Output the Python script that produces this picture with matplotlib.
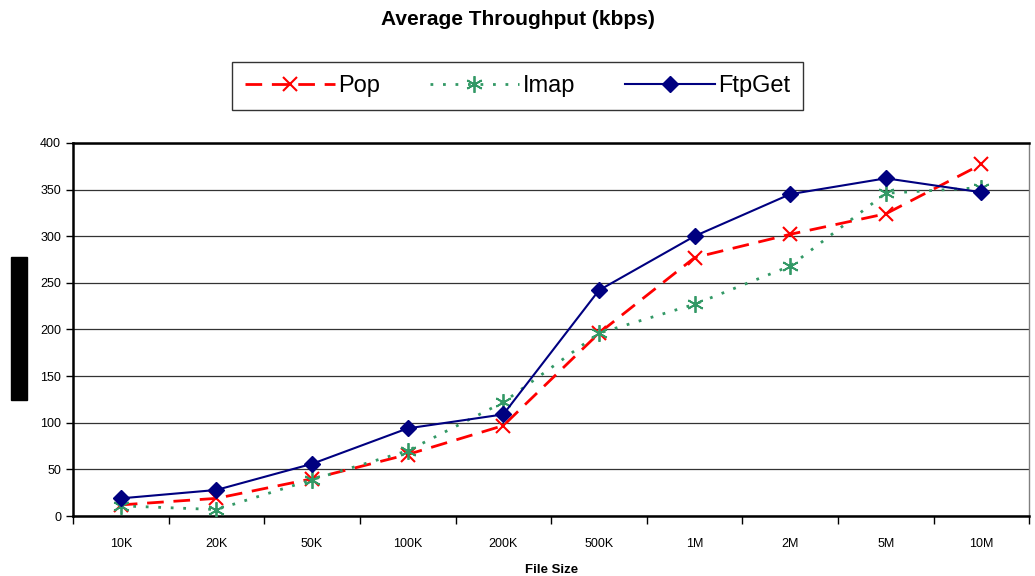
import matplotlib
matplotlib.use('Agg')
import matplotlib.pyplot as plt
from matplotlib.patches import Rectangle

plt.rcParams['font.family'] = ['Liberation Sans', 'DejaVu Sans']

sizes = ['10K', '20K', '50K', '100K', '200K', '500K', '1M', '2M', '5M', '10M']
pop = [12, 19, 40, 66, 97, 196, 277, 302, 324, 377]
imap = [11, 7, 39, 70, 122, 196, 227, 268, 346, 352]
ftpget = [19, 28, 56, 94, 109, 242, 300, 345, 362, 347]

fig = plt.figure(figsize=(10.35, 5.76), dpi=100)
ax = fig.add_axes([0.0705, 0.104, 0.924, 0.648])

x = list(range(len(sizes)))
ax.plot(x, pop, color='#FF0000', linestyle=(0, (6, 3.5)), linewidth=2,
        marker='x', markersize=10, markeredgewidth=1.5, label='Pop', zorder=3)
ax.plot(x, imap, color='#339966', linestyle=(0, (1, 3.5)), linewidth=2,
        marker=(6, 2, 0), markersize=12, markeredgewidth=1.3, label='Imap', zorder=3)
ax.plot(x, ftpget, color='#000080', linestyle='-', linewidth=1.5,
        marker='D', markersize=8, label='FtpGet', zorder=4)

ax.set_xlim(-0.5, len(sizes) - 0.5)
ax.set_ylim(0, 400)
ax.set_yticks(range(0, 401, 50))
ax.set_xticks(x)
ax.set_xticklabels(sizes)
ax.set_xticks([i - 0.5 for i in range(len(sizes) + 1)], minor=True)
ax.tick_params(axis='x', which='major', length=0, pad=16, labelsize=9)
ax.tick_params(axis='x', which='minor', length=6, width=1, direction='out')
ax.tick_params(axis='y', length=5, width=1, direction='out', labelsize=9)
ax.yaxis.grid(True, color='#333333', linewidth=0.9)
ax.set_axisbelow(True)
for s in ['left', 'bottom', 'top']:
    ax.spines[s].set_linewidth(1.8)
ax.spines['right'].set_color('#808080')
ax.spines['right'].set_linewidth(1)

ax.set_xlabel('File Size', fontsize=9.5, fontweight='bold', labelpad=10)
fig.suptitle('Average Throughput (kbps)', fontsize=15, fontweight='bold', y=0.983)

leg = fig.legend(loc='center', bbox_to_anchor=(0.5, 0.851), ncol=3, fontsize=17,
                 frameon=True, fancybox=False, edgecolor='black', handlelength=3.8,
                 columnspacing=2.1, borderpad=0.55, handletextpad=0.15, borderaxespad=0)
leg.get_frame().set_linewidth(1)

# redacted y-axis label
fig.patches.append(Rectangle((11 / 1035, 1 - 400 / 576), 16 / 1035, 143 / 576,
                             transform=fig.transFigure, color='black'))

fig.savefig('out.png', dpi=100)
